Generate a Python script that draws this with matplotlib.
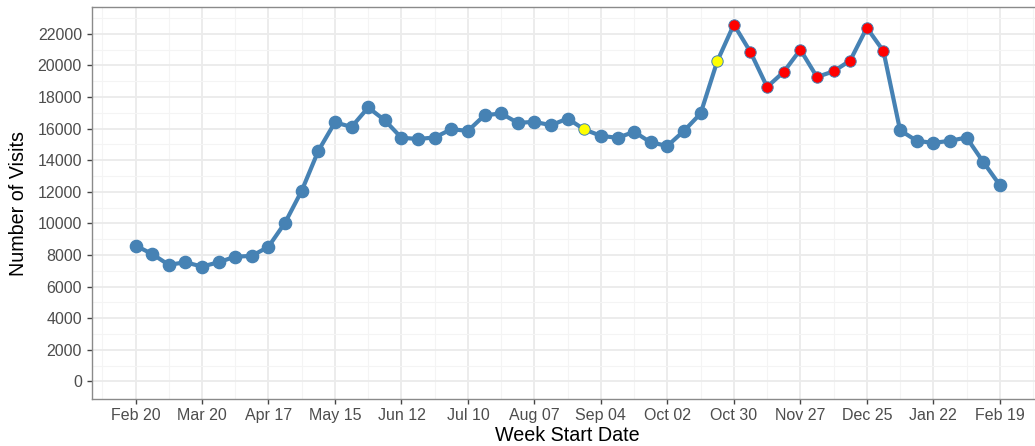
import matplotlib
matplotlib.use("Agg")
import matplotlib.pyplot as plt
import matplotlib.dates as mdates
import pandas as pd
import numpy as np

# ---- data ----
start_date = "2017-02-20"
n_weeks = 53
visits = [8600, 8070, 7380, 7545, 7270, 7545, 7900, 7945, 8530, 10050,
          12070, 14600, 16400, 16110, 17340, 16530, 15420, 15350, 15440, 15965,
          15860, 16850, 16960, 16370, 16430, 16220, 16640, 15950, 15545, 15420,
          15800, 15130, 14910, 15860, 16960, 20265, 22590, 20850, 18640, 19590,
          21000, 19270, 19630, 20310, 22390, 20910, 15900, 15230, 15100, 15230,
          15440, 13900, 12430]
yellow_idx = [27, 35]
red_idx = [36, 37, 38, 39, 40, 41, 42, 43, 44, 45]
y_ticks = list(range(0, 22001, 2000))
x_label = "Week Start Date"
y_label = "Number of Visits"

weeks = pd.date_range(start_date, periods=n_weeks, freq="7D")
x = mdates.date2num(weeks.to_pydatetime())
vals = np.array(visits, dtype=float)

plt.rcParams['font.family'] = ['Liberation Sans', 'DejaVu Sans']

fig = plt.figure(figsize=(10.35, 4.46), dpi=100)
ax = fig.add_axes([92.3/1035, 1 - 399.3/446, (1043 - 92.3)/1035, (399.3 - 6.7)/446])

steel = '#4682B4'
normal_idx = [i for i in range(n_weeks) if i not in yellow_idx and i not in red_idx]
ax.plot(x, vals, color=steel, lw=3.0, zorder=3, solid_capstyle='butt')
ax.plot(x[normal_idx], vals[normal_idx], 'o', color=steel, ms=8.8, zorder=4, mec=steel)
ax.plot(x[yellow_idx], vals[yellow_idx], 'o', color='yellow', ms=8.2,
        mec=steel, mew=0.7, zorder=5)
ax.plot(x[red_idx], vals[red_idx], 'o', color='red', ms=8.2,
        mec=steel, mew=0.7, zorder=5)

# limits (ggplot-like 5% expansion)
xr = x[-1] - x[0]
ax.set_xlim(x[0] - 0.05 * xr, x[-1] + 0.05 * xr)
ymax = vals.max()
ax.set_ylim(-0.05 * ymax, ymax * 1.05)

major_x = x[::4]
ax.set_xticks(major_x)
ax.set_xticklabels([d.strftime('%b %d') for d in weeks[::4]])
minor_x = np.concatenate([[x[0] - 14], x[2::4], [x[-1] + 14]])
ax.set_xticks(minor_x, minor=True)
ax.set_yticks(y_ticks)
ax.set_yticks(np.arange(1000, 24000, 2000), minor=True)

ax.grid(which='major', color='#ebebeb', lw=1.3, zorder=0)
ax.grid(which='minor', color='#f4f4f4', lw=0.8, zorder=0)
ax.set_axisbelow(True)

for s in ax.spines.values():
    s.set_color('#8a8a8a')
    s.set_linewidth(1.0)

ax.tick_params(which='major', length=3.5, width=1.0, color='#444444',
               labelcolor='#4d4d4d', labelsize=11.5, pad=3)
ax.tick_params(which='minor', length=0)
ax.tick_params(axis='y', pad=4)

ax.set_xlabel(x_label, fontsize=14.2, color='black', labelpad=2)
ax.set_ylabel(y_label, fontsize=14.2, color='black', labelpad=7)

fig.savefig('out.png', dpi=100)
